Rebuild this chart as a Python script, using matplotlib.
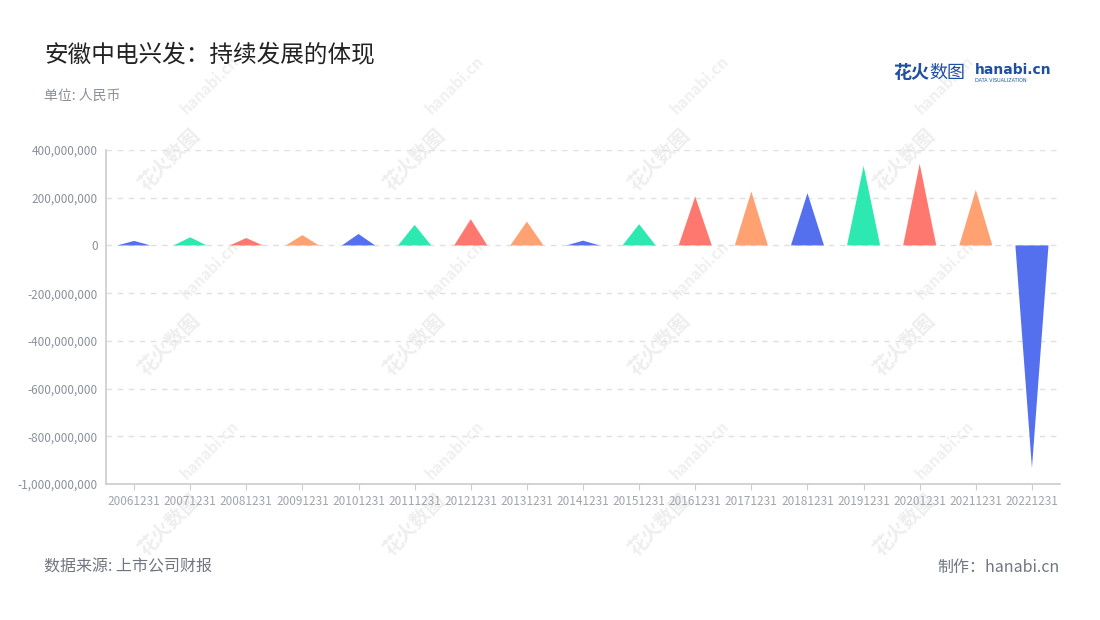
import matplotlib
matplotlib.use("Agg")
import matplotlib.pyplot as plt
from matplotlib.ticker import FuncFormatter

plt.rcParams['font.family'] = ['Noto Sans CJK SC', 'DejaVu Sans']

# data
dates = ["20061231", "20071231", "20081231", "20091231", "20101231", "20111231",
         "20121231", "20131231", "20141231", "20151231", "20161231", "20171231",
         "20181231", "20191231", "20201231", "20211231", "20221231"]
values = [19e6, 34e6, 31e6, 43e6, 48e6, 86e6, 110e6, 100e6, 20e6, 89e6,
          205e6, 226e6, 219e6, 333e6, 342e6, 233e6, -933e6]
palette = ["#5470ee", "#2de8b0", "#ff7870", "#ffa170"]
yticks = [400e6, 200e6, 0, -200e6, -400e6, -600e6, -800e6, -1000e6]

fig = plt.figure(figsize=(11, 6.2), dpi=100)
ax = fig.add_axes([106/1100, 1-484/620, (1060-106)/1100, (484-150)/620])
ax.set_zorder(2)
ax.patch.set_visible(False)

w = 0.59
for i, v in enumerate(values):
    ax.fill([i - w/2, i, i + w/2], [0, v, 0], color=palette[i % 4], lw=0, zorder=3)

ax.set_xlim(-0.5, len(dates) - 0.5)
ax.set_ylim(-1000e6, 400e6)
ax.set_yticks(yticks)
ax.yaxis.set_major_formatter(FuncFormatter(lambda v, p: f"{v:,.0f}"))
ax.set_xticks(range(len(dates)))
ax.set_xticklabels(dates)
ax.tick_params(axis='y', length=0, labelsize=8.5, labelcolor="#8a8f99", pad=6)
ax.tick_params(axis='x', length=4, color="#cccccc", labelsize=8.5, labelcolor="#a0a4ab", pad=4)

ax.grid(axis='y', color="#e0e0e0", linestyle=(0, (4, 4)), lw=1, zorder=0)
for s in ["top", "right"]:
    ax.spines[s].set_visible(False)
ax.spines["left"].set_color("#cccccc")
ax.spines["bottom"].set_color("#cccccc")
ax.spines["left"].set_linewidth(1.2)
ax.spines["bottom"].set_linewidth(1.2)

# watermarks
for wx in [170, 415, 660, 905]:
    for wy in [160, 345, 525]:
        fig.text(wx/1100, 1-wy/620, "花火数图", fontsize=14, fontweight='bold', color="#eeeeee",
                 rotation=45, ha='center', va='center', zorder=0)
    for wy in [85, 270, 450]:
        fig.text((wx+40)/1100, 1-wy/620, "hanabi.cn", fontsize=11, fontweight='bold', color="#f0f0f0",
                 rotation=45, ha='center', va='center', zorder=0)

# titles
fig.text(44/1100, 1-55/620, "安徽中电兴发：持续发展的体现", fontsize=17, color="#222222", va='center')
fig.text(44/1100, 1-96/620, "单位: 人民币", fontsize=10, color="#8a8f99", va='center')
fig.text(44/1100, 1-567/620, "数据来源: 上市公司财报", fontsize=11.5, color="#707580", va='center')
fig.text(1060/1100, 1-567/620, "制作：hanabi.cn", fontsize=11.5, color="#707580", va='center', ha='right')

# logo
fig.text(893/1100, 1-73/620, "花火", fontsize=13, fontweight='bold', color="#1f4fa0", va='center')
fig.text(929/1100, 1-73/620, "数图", fontsize=13, color="#1f4fa0", va='center')
fig.text(975/1100, 1-70/620, "hanabi.cn", fontsize=10, fontweight='bold', color="#1f4fa0", va='center',
         family=['DejaVu Sans'])
fig.text(975/1100, 1-80/620, "DATA VISUALIZATION", fontsize=3.5, color="#1f4fa0", va='center',
         family=['DejaVu Sans'])

fig.savefig("out.png", dpi=100)
